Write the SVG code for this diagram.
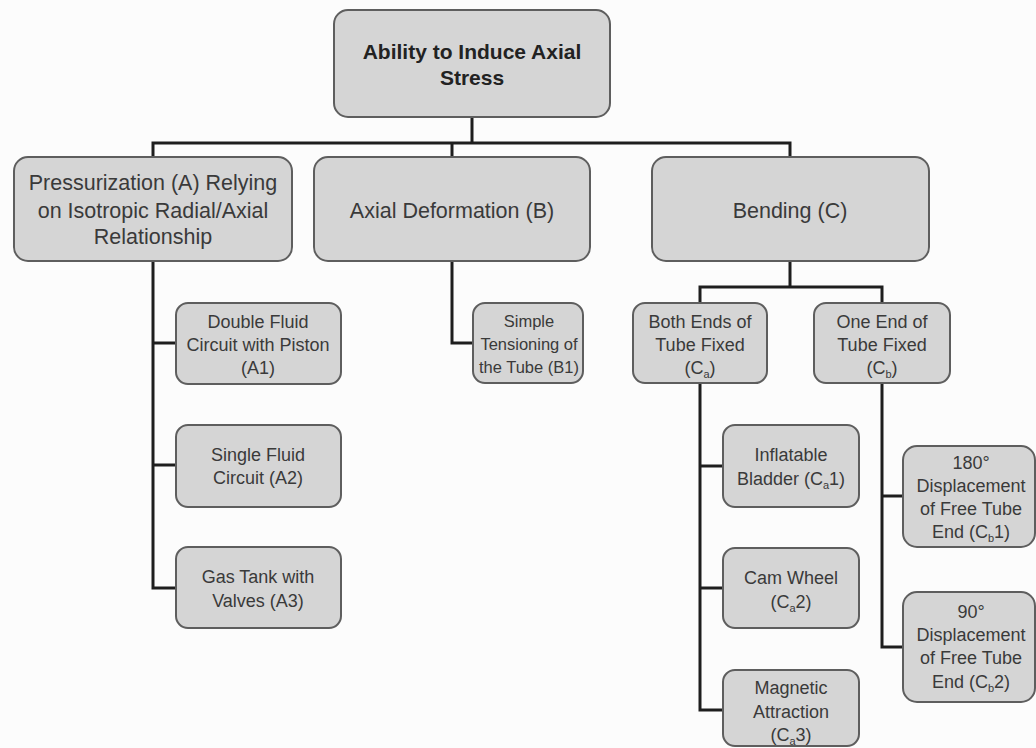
<svg xmlns="http://www.w3.org/2000/svg" width="1036" height="748" viewBox="0 0 1036 748">
<style>
.box{fill:#d5d5d5;stroke:#5e5e5e;stroke-width:2}
.t{font-family:"Liberation Sans",Arial,sans-serif;fill:#3a3a3a;text-anchor:middle}
.s{font-size:18px}
.m{font-size:21.5px}
.r{font-size:21px;font-weight:bold;fill:#222}
.sub{font-size:11px}
.conn{fill:none;stroke:#1e1e1e;stroke-width:3}
</style>
<rect x="0" y="0" width="1036" height="748" fill="#fcfcfc"/>
<g id="connectors" class="conn">
<path d="M472 117V143M153 157V143H790V157M452 143V157"/>
<path d="M153 261V588H176M153 343H176M153 465H176"/>
<path d="M452 261V343H473"/>
<path d="M790 261V287M700 303V287H882V303"/>
<path d="M700 383V710H723M700 466H723M700 588H723"/>
<path d="M882 383V647H903M882 496H903"/>
</g>
<g id="root"><rect class="box" x="334" y="10" width="276" height="107" rx="14"/>
<text class="t r" x="472" y="59">Ability to Induce Axial</text><text class="t r" x="472" y="85">Stress</text></g>
<g id="A"><rect class="box" x="14" y="157" width="278" height="104" rx="14"/>
<text class="t m" x="153" y="190">Pressurization (A) Relying</text>
<text class="t m" x="153" y="218">on Isotropic Radial/Axial</text>
<text class="t m" x="153" y="244">Relationship</text></g>
<g id="B"><rect class="box" x="314" y="157" width="276" height="104" rx="14"/>
<text class="t m" x="452" y="218">Axial Deformation (B)</text></g>
<g id="C"><rect class="box" x="652" y="157" width="277" height="104" rx="14"/>
<text class="t m" x="790" y="218">Bending (C)</text></g>
<g id="A1"><rect class="box" x="176" y="303" width="165" height="81" rx="12"/>
<text class="t s" x="258" y="328">Double Fluid</text>
<text class="t s" x="258" y="351">Circuit with Piston</text>
<text class="t s" x="258" y="374">(A1)</text></g>
<g id="A2"><rect class="box" x="176" y="425" width="165" height="82" rx="12"/>
<text class="t s" x="258" y="461">Single Fluid</text>
<text class="t s" x="258" y="484">Circuit (A2)</text></g>
<g id="A3"><rect class="box" x="176" y="547" width="165" height="81" rx="12"/>
<text class="t s" x="258" y="583">Gas Tank with</text>
<text class="t s" x="258" y="607">Valves (A3)</text></g>
<g id="B1"><rect class="box" x="473" y="303" width="110" height="80" rx="12"/>
<text class="t" style="font-size:16.5px" x="529" y="327">Simple</text>
<text class="t" style="font-size:16.5px" x="529" y="350">Tensioning of</text>
<text class="t" style="font-size:16.5px" x="529" y="373">the Tube (B1)</text></g>
<g id="Ca"><rect class="box" x="633" y="303" width="134" height="80" rx="12"/>
<text class="t s" x="700" y="328">Both Ends of</text>
<text class="t s" x="700" y="351">Tube Fixed</text>
<text class="t s" x="700" y="374">(C<tspan class="sub" dy="4">a</tspan><tspan dy="-4">)</tspan></text></g>
<g id="Cb"><rect class="box" x="814" y="303" width="136" height="80" rx="12"/>
<text class="t s" x="882" y="328">One End of</text>
<text class="t s" x="882" y="351">Tube Fixed</text>
<text class="t s" x="882" y="374">(C<tspan class="sub" dy="4">b</tspan><tspan dy="-4">)</tspan></text></g>
<g id="Ca1"><rect class="box" x="723" y="425" width="136" height="82" rx="12"/>
<text class="t s" x="791" y="461">Inflatable</text>
<text class="t s" x="791" y="485">Bladder (C<tspan class="sub" dy="4">a</tspan><tspan dy="-4">1)</tspan></text></g>
<g id="Ca2"><rect class="box" x="723" y="548" width="136" height="80" rx="12"/>
<text class="t s" x="791" y="584">Cam Wheel</text>
<text class="t s" x="791" y="608">(C<tspan class="sub" dy="4">a</tspan><tspan dy="-4">2)</tspan></text></g>
<g id="Ca3"><rect class="box" x="723" y="670" width="136" height="76" rx="12"/>
<text class="t s" x="791" y="694">Magnetic</text>
<text class="t s" x="791" y="718">Attraction</text>
<text class="t s" x="791" y="741">(C<tspan class="sub" dy="4">a</tspan><tspan dy="-4">3)</tspan></text></g>
<g id="Cb1"><rect class="box" x="903" y="446" width="132" height="101" rx="14"/>
<text class="t s" x="971" y="469">180°</text>
<text class="t s" x="971" y="492">Displacement</text>
<text class="t s" x="971" y="515">of Free Tube</text>
<text class="t s" x="971" y="538">End (C<tspan class="sub" dy="4">b</tspan><tspan dy="-4">1)</tspan></text></g>
<g id="Cb2"><rect class="box" x="903" y="592" width="132" height="110" rx="14"/>
<text class="t s" x="971" y="618">90°</text>
<text class="t s" x="971" y="641">Displacement</text>
<text class="t s" x="971" y="664">of Free Tube</text>
<text class="t s" x="971" y="688">End (C<tspan class="sub" dy="4">b</tspan><tspan dy="-4">2)</tspan></text></g>
</svg>
